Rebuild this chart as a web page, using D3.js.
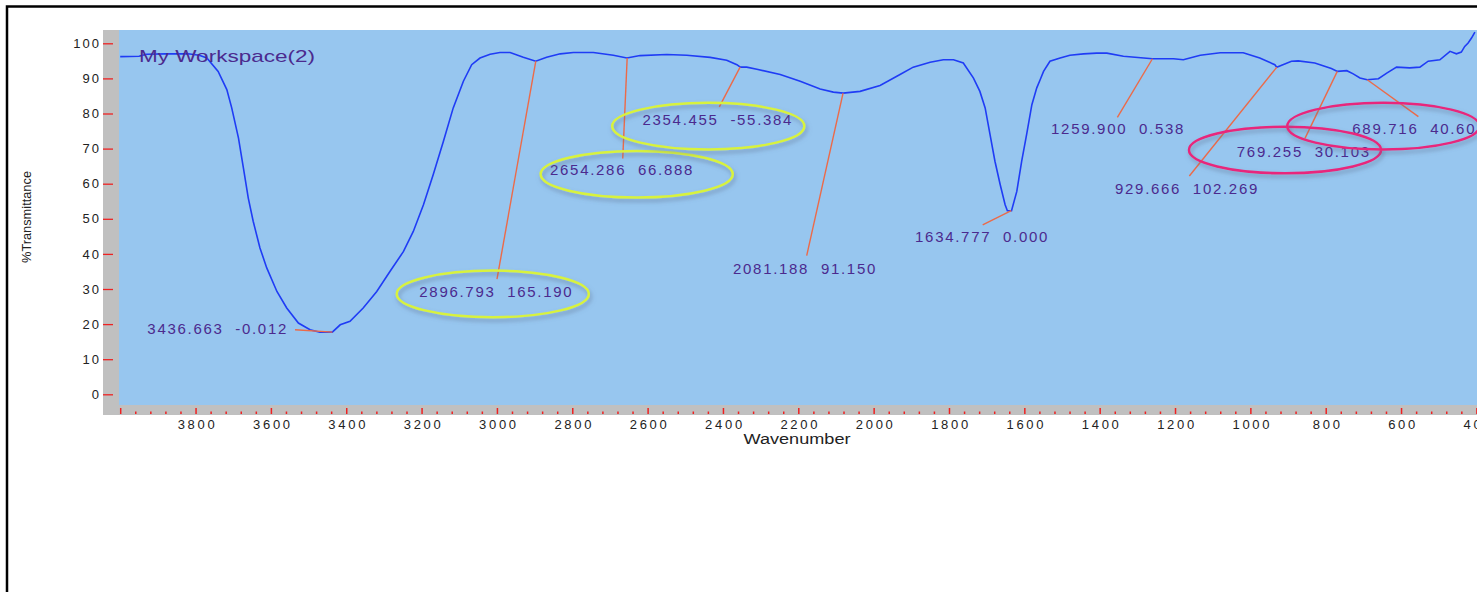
<!DOCTYPE html>
<html>
<head>
<meta charset="utf-8">
<script src="https://cdn.jsdelivr.net/npm/d3@7"></script>
<style>
  html, body { margin: 0; padding: 0; background: #fff; overflow: hidden; }
  svg { display: block; }
</style>
</head>
<body>
<svg id="chart" width="1477" height="592"></svg>
<script>
// ---------------- data ----------------
const wavenumbers = [4000, 3950, 3930, 3880, 3820, 3790, 3770, 3740, 3717, 3704, 3686, 3673, 3660, 3647, 3629, 3611, 3584, 3558, 3527, 3496, 3470, 3437, 3416, 3390, 3355, 3319, 3284, 3248, 3222, 3195, 3169, 3142, 3116, 3089, 3067, 3045, 3018, 2992, 2965, 2930, 2897, 2868, 2832, 2797, 2744, 2691, 2655, 2620, 2549, 2496, 2434, 2390, 2363, 2354, 2337, 2310, 2248, 2195, 2142, 2107, 2081, 2036, 1983, 1930, 1895, 1850, 1815, 1788, 1762, 1735, 1718, 1704, 1691, 1678, 1664, 1651, 1645, 1634, 1620, 1607, 1594, 1580, 1567, 1558, 1549, 1532, 1505, 1479, 1443, 1408, 1381, 1337, 1260, 1204, 1178, 1133, 1080, 1019, 975, 935, 930, 891, 873, 829, 785, 769, 744, 727, 709, 690, 660, 638, 612, 577, 550, 528, 497, 470, 453, 440, 431, 422, 413, 404];
const transmittance = [96.2, 96.3, 96.9, 97.0, 97.0, 96.6, 95.8, 92.0, 86.8, 81.6, 73.0, 64.5, 55.9, 49.3, 41.7, 36.0, 29.3, 24.6, 20.3, 18.4, 17.7, 17.7, 19.8, 20.8, 24.6, 29.3, 35.0, 40.7, 46.4, 54.0, 62.6, 72.1, 81.6, 89.2, 93.9, 95.8, 96.9, 97.4, 97.4, 96.0, 94.9, 96.0, 97.0, 97.4, 97.4, 96.6, 95.8, 96.5, 96.8, 96.6, 96.0, 95.2, 93.9, 93.2, 93.2, 92.6, 91.1, 89.2, 87.0, 86.1, 85.8, 86.3, 88.0, 91.1, 93.2, 94.6, 95.3, 95.3, 94.4, 90.1, 86.3, 81.6, 74.0, 66.4, 59.7, 54.0, 52.3, 52.3, 57.8, 66.4, 74.0, 82.5, 87.3, 89.6, 92.0, 94.9, 95.8, 96.6, 97.0, 97.2, 97.2, 96.3, 95.6, 95.6, 95.3, 96.6, 97.3, 97.3, 95.8, 93.9, 93.2, 94.9, 95.0, 94.4, 92.8, 92.0, 92.2, 91.3, 90.1, 89.6, 89.9, 91.5, 93.2, 93.0, 93.2, 94.9, 95.3, 97.7, 97.0, 97.5, 99.1, 100.1, 101.5, 103.2];

const xMajorTicks = [4000, 3800, 3600, 3400, 3200, 3000, 2800, 2600, 2400, 2200, 2000, 1800, 1600, 1400, 1200, 1000, 800, 600, 400];
const xTickLabels = [3800, 3600, 3400, 3200, 3000, 2800, 2600, 2400, 2200, 2000, 1800, 1600, 1400, 1200, 1000, 800, 600, 400];
const yTicks = [0, 10, 20, 30, 40, 50, 60, 70, 80, 90, 100];

const peakWavenumbers = [3436.663, 2896.793, 2654.286, 2354.455, 2081.188, 1634.777, 1259.900, 929.666, 769.255, 689.716];
const peakTransmittance = [17.7, 94.9, 95.8, 93.2, 85.8, 52.3, 95.6, 93.2, 92.0, 89.6];
const peakLabels = ["3436.663  -0.012", "2896.793  165.190", "2654.286  66.888", "2354.455  -55.384", "2081.188  91.150", "1634.777  0.000", "1259.900  0.538", "929.666  102.269", "769.255  30.103", "689.716  40.60"];

const seriesName = "My Workspace(2)";
const xTitle = "Wavenumber";
const yTitle = "%Transmittance";

// ---------------- layout (in data coordinates) ----------------
// label anchor: [wavenumber, %T, text-anchor]
const labelAnchors = [[3554.6, 18.6, "end"], [3206, 29.4, "start"], [2859, 63.9, "start"], [2613.6, 78.3, "start"], [2373.3, 35.9, "start"], [1890, 44.8, "start"], [1529, 75.8, "start"], [1359.3, 58.7, "start"], [1036, 69.1, "start"], [729.4, 75.8, "start"]];
const leaderEnds = [[3536, 18.4], [2999.8, 32.8], [2666, 67.2], [2409.7, 81.9], [2177.7, 39.5], [1710.5, 48.3], [1353, 78.9], [1162, 62.2], [855, 72.9], [554, 79.1]];
// ellipse: [cx wavenumber, cy %T, colour]
const ellipses = [[3011, 28.6, "#d8f23e"], [2629, 62.7, "#d8f23e"], [2439, 76.4, "#d8f23e"], [908, 69.6, "#e8287c"], [647, 76.4, "#e8287c"]];

// ---------------- drawing ----------------
const svg = d3.select("#chart");
const W = 1477, H = 592;
const FONT = "'Liberation Sans', Arial, sans-serif";

const x = d3.scaleLinear().domain([4000, 400]).range([120.2, 1476.4]);
const y = d3.scaleLinear().domain([0, 100]).range([394.3, 43.3]);

const plotLeft = 119, plotTop = 30, plotBottom = 405, stripBottom = 415;

const defs = svg.append("defs");
defs.append("clipPath").attr("id", "clip")
  .append("rect").attr("x", plotLeft).attr("y", plotTop).attr("width", W - plotLeft).attr("height", plotBottom - plotTop);
const f = defs.append("filter").attr("id", "shadow").attr("x", "-20%").attr("y", "-40%").attr("width", "140%").attr("height", "180%");
f.append("feDropShadow").attr("dx", 1.5).attr("dy", 3).attr("stdDeviation", 2).attr("flood-color", "#5a6a88").attr("flood-opacity", 0.55);

// outer frame
svg.append("rect").attr("x", 7).attr("y", 6.5).attr("width", 1600).attr("height", 700)
  .attr("fill", "#fff").attr("stroke", "#000").attr("stroke-width", 2.5);

// gray strip (left + bottom)
svg.append("rect").attr("x", 103).attr("y", plotTop).attr("width", W - 103).attr("height", stripBottom - plotTop).attr("fill", "#c0c0c0");
// plot background
svg.append("rect").attr("x", plotLeft).attr("y", plotTop).attr("width", W - plotLeft).attr("height", plotBottom - plotTop).attr("fill", "#97c6ef");

const tickColor = "#ee2222";

// y axis
const yAxis = svg.append("g").attr("transform", "translate(113,0)")
  .call(d3.axisLeft(y).tickValues(yTicks).tickSize(10).tickPadding(2).tickFormat(d3.format("d")));
yAxis.select(".domain").remove();
yAxis.selectAll(".tick line").attr("stroke", tickColor).attr("stroke-width", 1.3);
yAxis.selectAll(".tick text").attr("fill", "#222").style("font-family", FONT)
  .style("font-size", "13px").style("letter-spacing", "2px");

// x axis ticks (minor + major), drawn upward from strip bottom
const minorTicks = d3.range(4000, 399, -40).filter(v => v % 200 !== 0);
const xMinor = svg.append("g").attr("transform", `translate(0,${stripBottom - 1})`)
  .call(d3.axisTop(x).tickValues(minorTicks).tickSize(2.5).tickFormat(""));
xMinor.select(".domain").remove();
xMinor.selectAll(".tick line").attr("stroke", tickColor).attr("stroke-width", 1.5);
const xMajor = svg.append("g").attr("transform", `translate(0,${stripBottom - 1})`)
  .call(d3.axisTop(x).tickValues(xMajorTicks).tickSize(6).tickFormat(""));
xMajor.select(".domain").remove();
xMajor.selectAll(".tick line").attr("stroke", tickColor).attr("stroke-width", 1.5);

const xLab = svg.append("g").attr("transform", `translate(1.5,${stripBottom - 1})`)
  .call(d3.axisBottom(x).tickValues(xTickLabels).tickSize(0).tickPadding(5.5).tickFormat(d3.format("d")));
xLab.select(".domain").remove();
xLab.selectAll(".tick text").attr("fill", "#222").style("font-family", FONT)
  .style("font-size", "13px").style("letter-spacing", "2.7px");

// axis titles
svg.append("text").attr("x", 797).attr("y", 444).attr("text-anchor", "middle")
  .attr("textLength", 107).attr("lengthAdjust", "spacingAndGlyphs")
  .style("font-family", FONT).style("font-size", "14px").attr("fill", "#222")
  .text(xTitle);
svg.append("text").attr("transform", "translate(31,217) rotate(-90)").attr("text-anchor", "middle")
  .attr("textLength", 92).attr("lengthAdjust", "spacingAndGlyphs")
  .style("font-family", FONT).style("font-size", "12px").attr("fill", "#222")
  .text(yTitle);

const plot = svg.append("g").attr("clip-path", "url(#clip)");

// spectrum
const pts = wavenumbers.map((w, i) => [w, transmittance[i]]);
plot.append("path").datum(pts)
  .attr("fill", "none").attr("stroke", "#1f3cf5").attr("stroke-width", 1.6)
  .attr("d", d3.line().x(d => x(d[0])).y(d => y(d[1])));

// series name
plot.append("text").attr("x", 139).attr("y", 62)
  .attr("textLength", 176).attr("lengthAdjust", "spacingAndGlyphs")
  .style("font-family", FONT).style("font-size", "17px").attr("fill", "#4b2a8e")
  .text(seriesName);

// leader lines
plot.selectAll("line.leader").data(peakWavenumbers).join("line").attr("class", "leader")
  .attr("x1", (d, i) => x(d)).attr("y1", (d, i) => y(peakTransmittance[i]))
  .attr("x2", (d, i) => x(leaderEnds[i][0])).attr("y2", (d, i) => y(leaderEnds[i][1]))
  .attr("stroke", "#ec6a48").attr("stroke-width", 1.4);

// peak labels
plot.selectAll("text.peak").data(peakLabels).join("text").attr("class", "peak")
  .attr("x", (d, i) => x(labelAnchors[i][0])).attr("y", (d, i) => y(labelAnchors[i][1]))
  .attr("dy", "0.36em").attr("text-anchor", (d, i) => labelAnchors[i][2])
  .style("font-family", FONT).style("font-size", "15px")
  .style("letter-spacing", "1.7px").style("white-space", "pre").attr("xml:space", "preserve")
  .attr("fill", "#4b2a8e")
  .text(d => d);

// highlight ellipses
const rxUnits = 255, ryUnits = 6.64;
plot.selectAll("ellipse.hl").data(ellipses).join("ellipse").attr("class", "hl")
  .attr("cx", d => x(d[0])).attr("cy", d => y(d[1]))
  .attr("rx", x(4000 - rxUnits) - x(4000)).attr("ry", y(0) - y(ryUnits))
  .attr("fill", "none").attr("stroke", d => d[2]).attr("stroke-width", 2.5)
  .attr("filter", "url(#shadow)");
</script>
</body>
</html>
